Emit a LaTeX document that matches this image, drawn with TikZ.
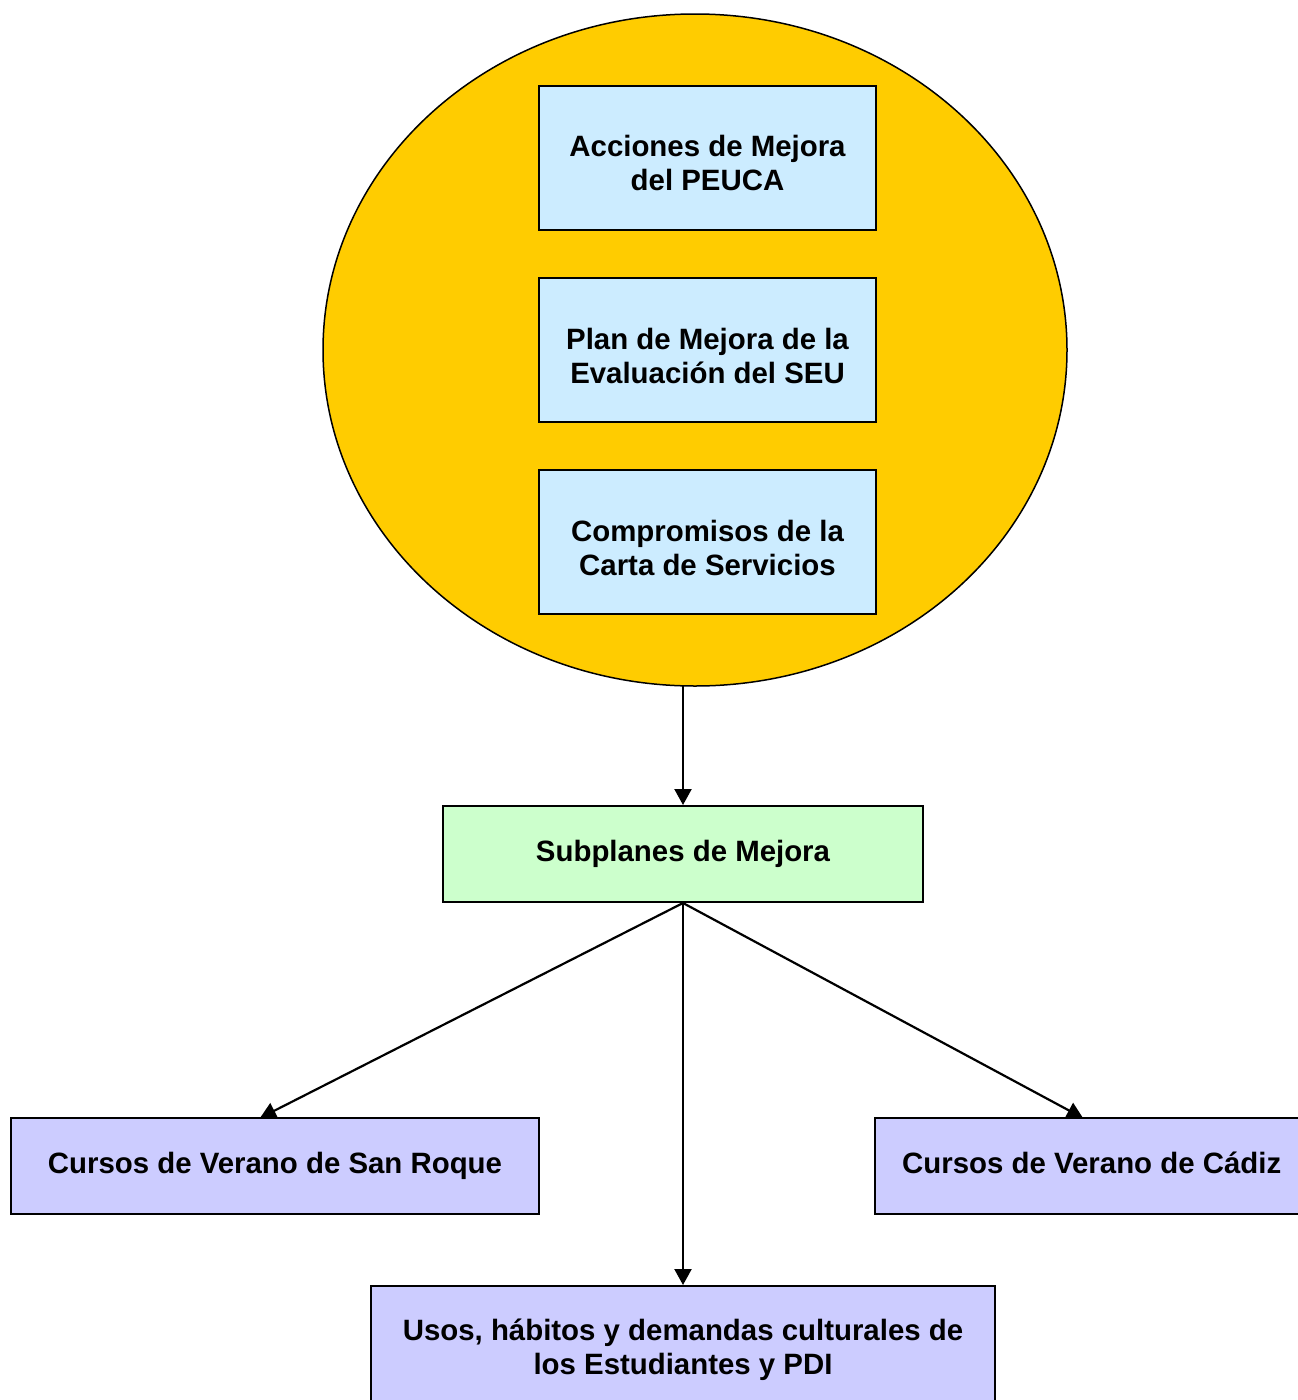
\documentclass[tikz,border=0pt]{standalone}
\usepackage{fontspec}
\setmainfont{Liberation Sans}
\usetikzlibrary{arrows.meta,shapes.geometric}
\definecolor{gold}{HTML}{FFCC00}
\definecolor{lblue}{HTML}{CCECFF}
\definecolor{lgreen}{HTML}{CCFFCC}
\definecolor{lpurple}{HTML}{CCCCFF}
\begin{document}
\begin{tikzpicture}[x=1pt,y=-1pt,
  boxstyle/.style={draw=black,line width=2pt,inner sep=0pt},
  txt/.style={font=\fontsize{29.4}{34.5}\selectfont\bfseries,align=center,inner sep=0pt},
  conn/.style={line width=2.2pt,-{Triangle[width=17pt,length=16pt]}}]
\useasboundingbox (0,0) rectangle (1298,1400);
\clip (0,0) rectangle (1298,1400);
\fill[white] (0,0) rectangle (1298,1400);
\node[draw=black,line width=1.5pt,fill=gold,ellipse,minimum width=744pt,minimum height=672pt,inner sep=0pt] (ell) at (695,350) {};
\node[boxstyle,fill=lblue,minimum width=337pt,minimum height=144pt] (b1) at (707.5,158) {};
\node[txt] (t1) at (707.5,163) {Acciones de Mejora\\del PEUCA};
\node[boxstyle,fill=lblue,minimum width=337pt,minimum height=144pt] (b2) at (707.5,350) {};
\node[txt] (t2) at (707.5,356) {Plan de Mejora de la\\Evaluación del SEU};
\node[boxstyle,fill=lblue,minimum width=337pt,minimum height=144pt] (b3) at (707.5,542) {};
\node[txt] (t3) at (707.5,548) {Compromisos de la\\Carta de Servicios};
\node[boxstyle,fill=lgreen,minimum width=480pt,minimum height=96pt] (sub) at (683,854) {};
\node[txt] (tsub) at (683,854) {Subplanes de Mejora};
\node[boxstyle,fill=lpurple,minimum width=528pt,minimum height=96pt] (sr) at (275,1166) {};
\node[txt] (tsr) at (275,1166) {Cursos de Verano de San Roque};
\node[boxstyle,fill=lpurple,minimum width=440pt,minimum height=96pt] (cz) at (1095,1166) {};
\node[txt,anchor=west] (tcz) at (902,1163) {Cursos de Verano de Cádiz};
\node[boxstyle,fill=lpurple,minimum width=624pt,minimum height=140pt] (us) at (683,1356) {};
\node[txt] (tus) at (683,1350) {Usos, hábitos y demandas culturales de\\los Estudiantes y PDI};
\coordinate (ellbot) at (683,686);
\coordinate (srtip) at (260,1118);
\coordinate (cztip) at (1083,1118);
\draw[conn] (ellbot) -- (sub.north);
\draw[conn] (sub.south) -- (srtip);
\draw[conn] (sub.south) -- (cztip);
\draw[conn] (sub.south) -- (us.north);
\end{tikzpicture}
\end{document}
